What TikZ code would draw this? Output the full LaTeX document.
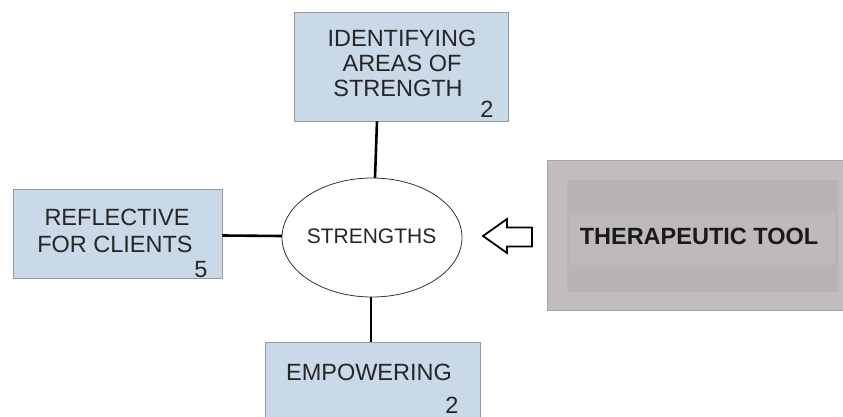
\documentclass[tikz,border=0pt]{standalone}
\usepackage{fontspec}
\setmainfont{Liberation Sans}
\begin{document}
\begin{tikzpicture}[x=1pt,y=-1pt,
  bluebox/.style={draw=gray!80, line width=0.6pt, fill=boxblue, minimum width=#1, inner sep=0pt},
  lbl/.style={font=\fontsize{23.5}{26}\selectfont, text=black!85, anchor=base, inner sep=0pt},
  conn/.style={line width=2.6pt, black}
]
\definecolor{boxblue}{HTML}{C9D9E7}
\definecolor{gout}{HTML}{C1BDBC}
\definecolor{gin}{HTML}{B8B4B3}
\definecolor{gband}{HTML}{BEBAB9}
\clip (0,0) rectangle (843,417);
\useasboundingbox (0,0) rectangle (843,417);
% boxes
\node[bluebox=214pt, minimum height=109pt] (topbox) at (401,66.5) {};
\node[bluebox=209pt, minimum height=89pt] (leftbox) at (117.5,233.5) {};
\node[bluebox=215pt, minimum height=76pt] (botbox) at (372.5,380) {};
% gray box
\node[draw=gray!70, fill=gout, minimum width=296pt, minimum height=150pt, inner sep=0pt] (tool) at (695,235) {};
\node[fill=gin, minimum width=271pt, minimum height=112pt, inner sep=0pt] (toolin) at (702.5,236) {};
\node[fill=gband, minimum width=265pt, minimum height=52pt, inner sep=0pt] (toolband) at (702,239) {};
\node[font=\bfseries\fontsize{23.5}{26}\selectfont, text=black!90, inner sep=0pt] (tooltxt) at (699,236) {THERAPEUTIC TOOL};
% ellipse
\draw[black!80, line width=0.8pt, fill=white] (372,237.5) ellipse [x radius=90, y radius=59.5];
\coordinate (strengths) at (372,237.5);
\node[font=\fontsize{21}{24}\selectfont, text=black!85, inner sep=0pt] (strtxt) at (371.5,236.5) {STRENGTHS};
\coordinate (sn) at (375,178);
\coordinate (sw) at (282,236);
\coordinate (ss) at (371,297);
% texts
\node[lbl] (t1) at (402,47) {IDENTIFYING};
\node[lbl] (t2) at (402,72) {AREAS OF};
\node[lbl] (t3) at (398,97) {STRENGTH};
\node[lbl] (n1) at (487,118) {2};
\node[lbl] (l1) at (117,225) {REFLECTIVE};
\node[lbl] (l2) at (115,252) {FOR CLIENTS};
\node[lbl] (n2) at (201,277) {5};
\node[lbl] (b1) at (369,380) {EMPOWERING};
\node[lbl] (n3) at (452,413) {2};
% connectors
\draw[conn] ([xshift=-24pt]topbox.south) -- (sn);
\draw[conn] ([yshift=-2pt]leftbox.east) -- (sw);
\draw[conn] (ss) -- (botbox.north -| ss);
% hollow arrow
\coordinate (atip) at (483,236);
\coordinate (aend) at (532,237);
\draw[black, line width=1.8pt, line join=miter, fill=white]
  (atip) -- (507,219) -- (507,227.5) -- (aend |- 0,227.5) -- (aend |- 0,246.5) -- (507,246.5) -- (507,253) -- cycle;
\end{tikzpicture}
\end{document}
